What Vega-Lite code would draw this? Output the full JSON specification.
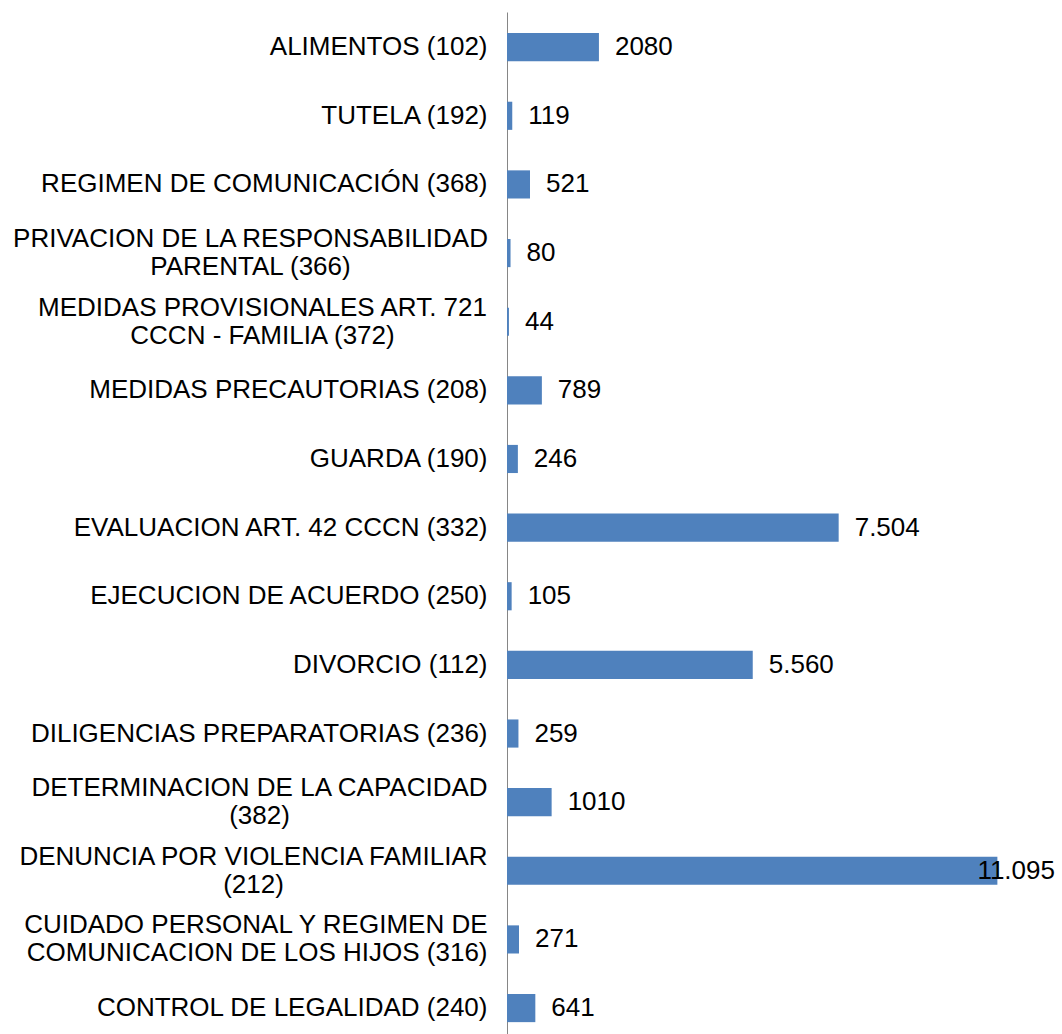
{
  "$schema": "https://vega.github.io/schema/vega-lite/v6.json",
  "autosize": "none",
  "width": 555,
  "height": 1022,
  "padding": {"left": 507, "top": 12, "right": 0, "bottom": 0},
  "background": "white",
  "config": {"view": {"stroke": null}, "font": "Liberation Sans"},
  "data": {
    "values": [
      {"categoria": "ALIMENTOS (102)", "cantidad": 2080},
      {"categoria": "TUTELA (192)", "cantidad": 119},
      {"categoria": "REGIMEN DE COMUNICACIÓN (368)", "cantidad": 521},
      {"categoria": "PRIVACION DE LA RESPONSABILIDAD|PARENTAL (366)", "cantidad": 80},
      {"categoria": "MEDIDAS PROVISIONALES ART. 721|CCCN - FAMILIA (372)", "cantidad": 44},
      {"categoria": "MEDIDAS PRECAUTORIAS (208)", "cantidad": 789},
      {"categoria": "GUARDA (190)", "cantidad": 246},
      {"categoria": "EVALUACION ART. 42 CCCN (332)", "cantidad": 7504},
      {"categoria": "EJECUCION DE ACUERDO (250)", "cantidad": 105},
      {"categoria": "DIVORCIO (112)", "cantidad": 5560},
      {"categoria": "DILIGENCIAS PREPARATORIAS (236)", "cantidad": 259},
      {"categoria": "DETERMINACION DE LA CAPACIDAD|(382)", "cantidad": 1010},
      {"categoria": "DENUNCIA POR VIOLENCIA FAMILIAR|(212)", "cantidad": 11095},
      {"categoria": "CUIDADO PERSONAL Y REGIMEN DE|COMUNICACION DE LOS HIJOS (316)", "cantidad": 271},
      {"categoria": "CONTROL DE LEGALIDAD (240)", "cantidad": 641}
    ]
  },
  "transform": [
    {"calculate": "datum.cantidad >= 5000 ? replace(format(datum.cantidad, ','), ',', '.') : format(datum.cantidad, 'd')", "as": "etiqueta"}
  ],
  "encoding": {
    "y": {
      "field": "categoria",
      "type": "nominal",
      "sort": null,
      "scale": {"paddingInner": 0.59, "paddingOuter": 0.24, "align": 0.64},
      "axis": {
        "title": null,
        "ticks": false,
        "domainColor": "#868686",
        "domainWidth": 1,
        "labelFont": "Liberation Sans",
        "labelFontSize": 26,
        "labelColor": "#000000",
        "labelLineHeight": 28,
        "labelLimit": 600,
        "labelExpr": "split(datum.value, '|')",
        "labelOffset": {"condition": {"test": "indexof(datum.value, '|') >= 0", "value": -14}, "value": 0},
        "labelAlign": {"condition": {"test": "indexof(datum.value, '|') >= 0 && indexof(datum.value, 'CUIDADO') < 0", "value": "center"}, "value": "right"},
        "labelPadding": {
          "condition": [
            {"test": "indexof(datum.value, 'PRIVACION') === 0", "value": 257},
            {"test": "indexof(datum.value, 'MEDIDAS PROVISIONALES') === 0", "value": 245},
            {"test": "indexof(datum.value, 'DETERMINACION') === 0", "value": 248},
            {"test": "indexof(datum.value, 'DENUNCIA') === 0", "value": 254}
          ],
          "value": 20
        }
      }
    },
    "x": {
      "field": "cantidad",
      "type": "quantitative",
      "scale": {"domain": [0, 12557], "nice": false},
      "axis": null
    }
  },
  "layer": [
    {"mark": {"type": "bar", "color": "#4F81BD"}},
    {
      "transform": [{"filter": "datum.cantidad < 10000"}],
      "mark": {"type": "text", "align": "left", "baseline": "middle", "dx": 16, "fontSize": 26, "font": "Liberation Sans", "color": "#000000"},
      "encoding": {"text": {"field": "etiqueta"}}
    },
    {
      "transform": [{"filter": "datum.cantidad >= 10000"}],
      "mark": {"type": "text", "align": "left", "baseline": "middle", "dx": -20, "fontSize": 26, "font": "Liberation Sans", "color": "#000000"},
      "encoding": {"text": {"field": "etiqueta"}}
    }
  ]
}
